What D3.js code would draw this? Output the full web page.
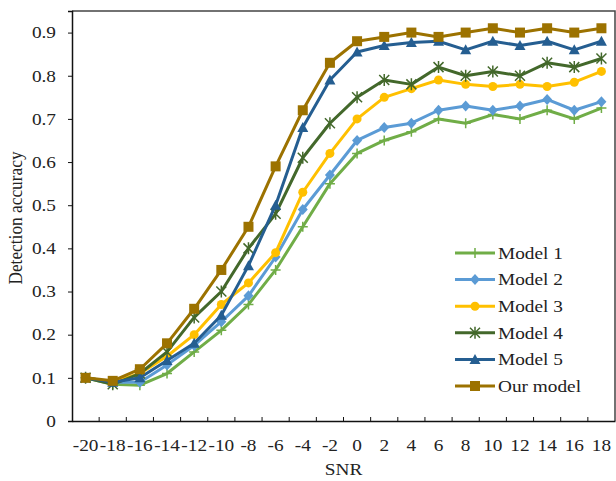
<!DOCTYPE html>
<html>
<head>
<meta charset="utf-8">
<script src="https://cdn.jsdelivr.net/npm/d3@7"></script>
<style>
  body { margin: 0; background: #fff; }
  text { font-family: "Liberation Serif", "Times New Roman", serif; fill: #222; }
</style>
</head>
<body>
<div id="chart"></div>
<script>
// SNR categories and model accuracies
var snr = [-20, -18, -16, -14, -12, -10, -8, -6, -4, -2, 0, 2, 4, 6, 8, 10, 12, 14, 16, 18];
var model1 = [0.1, 0.085, 0.083, 0.11, 0.16, 0.21, 0.27, 0.35, 0.45, 0.55, 0.62, 0.65, 0.67, 0.70, 0.69, 0.71, 0.70, 0.72, 0.70, 0.725];
var model2 = [0.1, 0.09, 0.09, 0.13, 0.175, 0.23, 0.29, 0.38, 0.49, 0.57, 0.65, 0.68, 0.69, 0.72, 0.73, 0.72, 0.73, 0.745, 0.72, 0.74];
var model3 = [0.1, 0.09, 0.11, 0.15, 0.2, 0.27, 0.32, 0.39, 0.53, 0.62, 0.70, 0.75, 0.77, 0.79, 0.78, 0.775, 0.78, 0.775, 0.785, 0.81];
var model4 = [0.1, 0.085, 0.11, 0.16, 0.24, 0.30, 0.40, 0.48, 0.61, 0.69, 0.75, 0.79, 0.78, 0.82, 0.80, 0.81, 0.80, 0.83, 0.82, 0.84];
var model5 = [0.1, 0.09, 0.10, 0.14, 0.18, 0.245, 0.36, 0.50, 0.68, 0.79, 0.855, 0.87, 0.877, 0.88, 0.86, 0.88, 0.87, 0.88, 0.86, 0.88];
var ourModel = [0.1, 0.093, 0.12, 0.18, 0.26, 0.35, 0.45, 0.59, 0.72, 0.83, 0.88, 0.89, 0.90, 0.89, 0.90, 0.91, 0.90, 0.91, 0.90, 0.91];
var seriesNames = ["Model 1", "Model 2", "Model 3", "Model 4", "Model 5", "Our model"];
var yTicks = [0, 0.1, 0.2, 0.3, 0.4, 0.5, 0.6, 0.7, 0.8, 0.9];

var series = [
  { name: seriesNames[0], values: model1, color: "#70AD47", marker: "plus" },
  { name: seriesNames[1], values: model2, color: "#5B9BD5", marker: "diamond" },
  { name: seriesNames[2], values: model3, color: "#FFC000", marker: "circle" },
  { name: seriesNames[3], values: model4, color: "#43682B", marker: "asterisk" },
  { name: seriesNames[4], values: model5, color: "#255E91", marker: "triangle" },
  { name: seriesNames[5], values: ourModel, color: "#9C7200", marker: "square" }
];

var W = 616, H = 481;
var margin = { top: 11, right: 1, bottom: 60, left: 72 };
var width = W - margin.left - margin.right,
    height = H - margin.top - margin.bottom;
var FS = "16.5px";
var SX = 1.17; // the source figure's text looks horizontally stretched

// stretch text horizontally, keeping its x anchor in place
function stretch(sel) {
  sel.each(function() {
    var t = d3.select(this);
    var xx = +t.attr("x") || 0;
    t.attr("x", xx / SX)
      .attr("transform", (t.attr("transform") || "") + " scale(" + SX + ",1)");
  });
}

var svg = d3.select("#chart").append("svg")
  .attr("width", W)
  .attr("height", H);

var g = svg.append("g")
  .attr("transform", "translate(" + margin.left + "," + margin.top + ")");

var x = d3.scaleBand().domain(snr).range([0, width]);
var y = d3.scaleLinear().domain([0, 0.95]).range([height, 0]);

// frame (top & right)
g.append("path")
  .attr("d", "M0,0H" + width + "V" + height)
  .attr("fill", "none")
  .attr("stroke", "#444")
  .attr("stroke-width", 1.5);

// y axis
var yAxis = g.append("g")
  .call(d3.axisLeft(y).tickValues(yTicks).tickSize(4).tickPadding(12)
    .tickFormat(function(d) { return d === 0 ? "0" : d3.format(".1f")(d); }));
yAxis.select(".domain").attr("stroke", "#111").attr("stroke-width", 1.5);
yAxis.selectAll(".tick line").attr("stroke", "#111");
yAxis.selectAll("text").style("font-size", FS).attr("fill", "#222").call(stretch);

// x axis: labels centered on bands, ticks at band boundaries pointing inward
var xAxis = g.append("g")
  .attr("transform", "translate(0," + height + ")")
  .call(d3.axisBottom(x).tickSize(0).tickPadding(18));
xAxis.select(".domain").attr("stroke", "#111").attr("stroke-width", 1.5);
xAxis.selectAll("text").style("font-size", FS).attr("fill", "#222").call(stretch);

g.append("g").selectAll("line")
  .data(snr.slice(1))
  .join("line")
  .attr("x1", function(d) { return x(d); })
  .attr("x2", function(d) { return x(d); })
  .attr("y1", height)
  .attr("y2", height - 4)
  .attr("stroke", "#111");

// axis titles
svg.append("text")
  .attr("transform", "translate(22," + (margin.top + height / 2 + 2) + ") rotate(-90) scale(1.05," + SX + ")")
  .attr("text-anchor", "middle")
  .style("font-size", "16.5px")
  .text("Detection accuracy");

svg.append("text")
  .attr("x", margin.left + width / 2)
  .attr("y", 475)
  .attr("text-anchor", "middle")
  .style("font-size", FS)
  .text("SNR")
  .call(stretch);

function drawMarker(sel, type, color) {
  if (type === "circle") {
    sel.append("circle").attr("r", 4.5).attr("fill", color);
  } else if (type === "square") {
    sel.append("rect").attr("x", -5).attr("y", -5).attr("width", 10).attr("height", 10).attr("fill", color);
  } else if (type === "diamond") {
    sel.append("path").attr("d", "M0,-5.5L5,0L0,5.5L-5,0Z").attr("fill", color);
  } else if (type === "triangle") {
    sel.append("path").attr("d", "M0,-5.5L5.5,4.5L-5.5,4.5Z").attr("fill", color);
  } else if (type === "plus") {
    sel.append("path").attr("d", "M-5,0H5M0,-5V5").attr("stroke", color).attr("stroke-width", 1.5);
  } else if (type === "asterisk") {
    sel.append("path").attr("d", "M-5,-5L5,5M-5,5L5,-5M0,-6V6").attr("stroke", color).attr("stroke-width", 1.5);
  }
}

var line = d3.line()
  .x(function(d, i) { return x(snr[i]) + x.bandwidth() / 2; })
  .y(function(d) { return y(d); });

series.forEach(function(s) {
  var sg = g.append("g");
  sg.append("path")
    .attr("d", line(s.values))
    .attr("fill", "none")
    .attr("stroke", s.color)
    .attr("stroke-width", 3)
    .attr("stroke-linejoin", "round");
  s.values.forEach(function(v, i) {
    var m = sg.append("g")
      .attr("transform", "translate(" + (x(snr[i]) + x.bandwidth() / 2) + "," + y(v) + ")");
    drawMarker(m, s.marker, s.color);
  });
});

// legend
var legend = svg.append("g").attr("transform", "translate(455,253)");
series.forEach(function(s, i) {
  var row = legend.append("g").attr("transform", "translate(0," + (i * 26.6) + ")");
  row.append("line")
    .attr("x1", 0).attr("x2", 40)
    .attr("stroke", s.color).attr("stroke-width", 3);
  drawMarker(row.append("g").attr("transform", "translate(20,0)"), s.marker, s.color);
  row.append("text")
    .attr("x", 43)
    .attr("dy", "0.35em")
    .style("font-size", FS)
    .text(s.name)
    .call(stretch);
});
</script>
</body>
</html>
